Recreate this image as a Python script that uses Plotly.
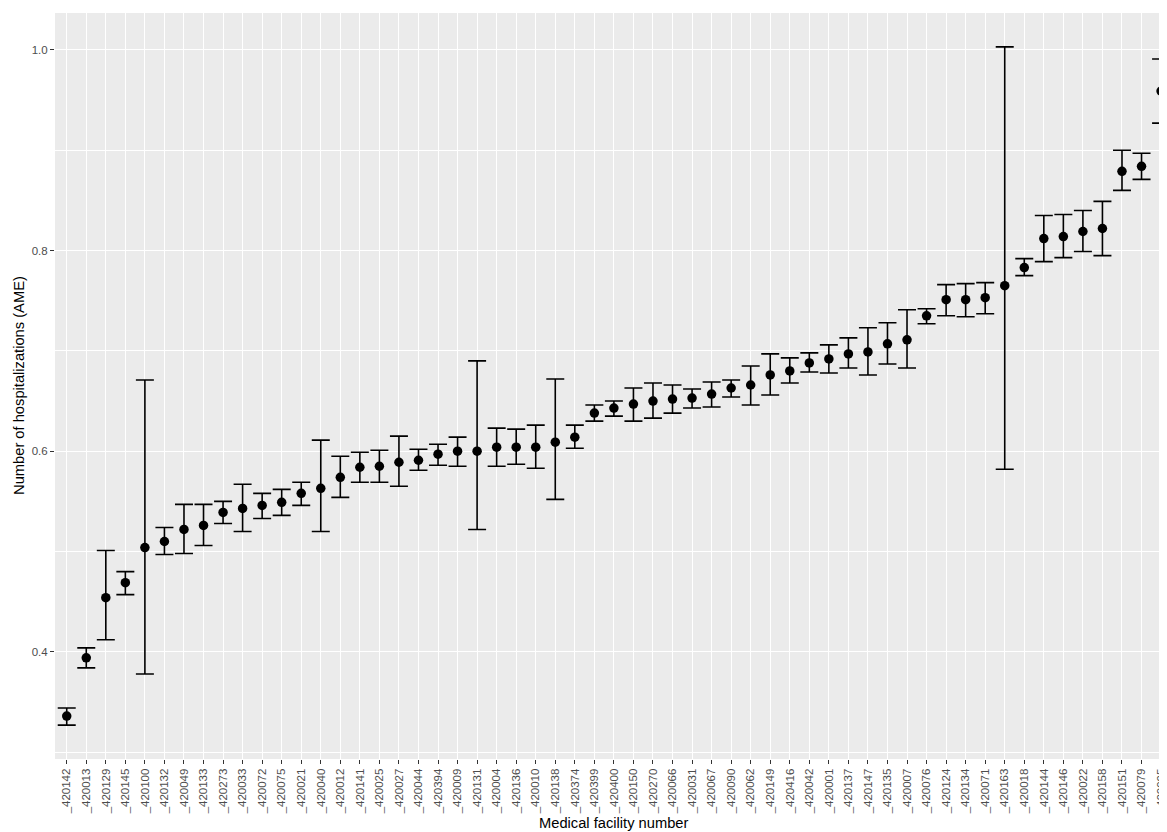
import plotly.graph_objects as go

facilities = ["420142", "420013", "420129", "420145", "420100", "420132", "420049", "420133",
              "420273", "420033", "420072", "420075", "420021", "420040", "420012", "420141",
              "420025", "420027", "420044", "420394", "420009", "420131", "420004", "420136",
              "420010", "420138", "420374", "420399", "420400", "420150", "420270", "420066",
              "420031", "420067", "420090", "420062", "420149", "420416", "420042", "420001",
              "420137", "420147", "420135", "420007", "420076", "420124", "420134", "420071",
              "420163", "420018", "420144", "420146", "420022", "420158", "420151", "420079",
              "420095"]

ame = [0.336, 0.394, 0.454, 0.469, 0.504, 0.510, 0.522, 0.526,
       0.539, 0.543, 0.546, 0.549, 0.558, 0.563, 0.574, 0.584,
       0.585, 0.589, 0.591, 0.597, 0.600, 0.600, 0.604, 0.604,
       0.604, 0.609, 0.614, 0.638, 0.643, 0.647, 0.650, 0.652,
       0.653, 0.657, 0.663, 0.666, 0.676, 0.680, 0.688, 0.692,
       0.697, 0.699, 0.707, 0.711, 0.735, 0.751, 0.751, 0.753,
       0.765, 0.783, 0.812, 0.814, 0.819, 0.822, 0.879, 0.884,
       0.959]

upper = [0.344, 0.404, 0.501, 0.480, 0.671, 0.524, 0.547, 0.547,
         0.550, 0.567, 0.558, 0.562, 0.569, 0.611, 0.595, 0.599,
         0.601, 0.615, 0.602, 0.607, 0.614, 0.690, 0.623, 0.622,
         0.626, 0.672, 0.626, 0.646, 0.650, 0.663, 0.668, 0.666,
         0.662, 0.669, 0.671, 0.685, 0.697, 0.693, 0.698, 0.706,
         0.713, 0.723, 0.728, 0.741, 0.742, 0.766, 0.767, 0.768,
         1.003, 0.792, 0.835, 0.836, 0.840, 0.849, 0.900, 0.897,
         0.991]

lower = [0.327, 0.384, 0.412, 0.457, 0.378, 0.497, 0.498, 0.506,
         0.528, 0.520, 0.533, 0.536, 0.546, 0.520, 0.554, 0.569,
         0.569, 0.565, 0.581, 0.586, 0.585, 0.522, 0.585, 0.587,
         0.583, 0.552, 0.603, 0.630, 0.635, 0.630, 0.633, 0.638,
         0.643, 0.644, 0.654, 0.646, 0.656, 0.668, 0.679, 0.678,
         0.683, 0.676, 0.687, 0.683, 0.727, 0.735, 0.734, 0.737,
         0.582, 0.775, 0.789, 0.793, 0.799, 0.795, 0.860, 0.871,
         0.927]

y_ticks = [0.4, 0.6, 0.8, 1.0]
x_title = "Medical facility number"
y_title = "Number of hospitalizations (AME)"

labels = ["_" + f for f in facilities]
err_plus = [u - m for u, m in zip(upper, ame)]
err_minus = [m - l for m, l in zip(ame, lower)]

fig = go.Figure()
fig.add_trace(go.Scatter(
    x=labels, y=ame, mode="markers",
    marker=dict(color="black", size=9.5, line=dict(width=0)),
    error_y=dict(type="data", symmetric=False, array=err_plus, arrayminus=err_minus,
                 color="black", thickness=1.6, width=9),
    showlegend=False,
))

# the page places the figure 8px in from the top-left (body margin)
W, H = 1159, 824
L, R, T, B = 47, 0, 5, 72.7

fig.update_layout(
    width=W, height=H,
    margin=dict(l=L, r=R, t=T, b=B, pad=0),
    paper_bgcolor="white",
    plot_bgcolor="#EBEBEB",
    font=dict(family="Liberation Sans, Arial, sans-serif", color="#4D4D4D"),
    xaxis=dict(
        type="category",
        range=[-0.6, 56.15],
        showgrid=True, gridcolor="white", gridwidth=1.4,
        zeroline=False, showline=False,
        ticks="outside", ticklen=4, tickwidth=1, tickcolor="#333333",
        tickangle=-90,
        tickfont=dict(size=11.5, color="#4D4D4D"),
    ),
    yaxis=dict(
        range=[0.2932, 1.0368],
        tickvals=y_ticks,
        ticktext=["%.1f" % v for v in y_ticks],
        showgrid=True, gridcolor="white", gridwidth=1.4,
        minor=dict(tickvals=[0.3, 0.5, 0.7, 0.9], showgrid=True, gridcolor="white",
                   gridwidth=0.7, ticks=""),
        zeroline=False, showline=False,
        ticks="outside", ticklen=4, tickwidth=1, tickcolor="#333333",
        tickfont=dict(size=11.5, color="#4D4D4D"),
    ),
)

plot_w = W - L - R
plot_h = H - T - B
fig.add_annotation(
    text=x_title, xref="paper", yref="paper",
    x=(607.5 - L) / plot_w, y=(H - B - 815) / plot_h,
    xanchor="center", yanchor="middle", showarrow=False,
    font=dict(size=14.7, color="black"),
)
fig.add_annotation(
    text=y_title, xref="paper", yref="paper",
    x=(11 - L) / plot_w, y=(H - B - 378) / plot_h,
    xanchor="center", yanchor="middle", showarrow=False, textangle=-90,
    font=dict(size=14.7, color="black"),
)

fig.write_html("out.html")
